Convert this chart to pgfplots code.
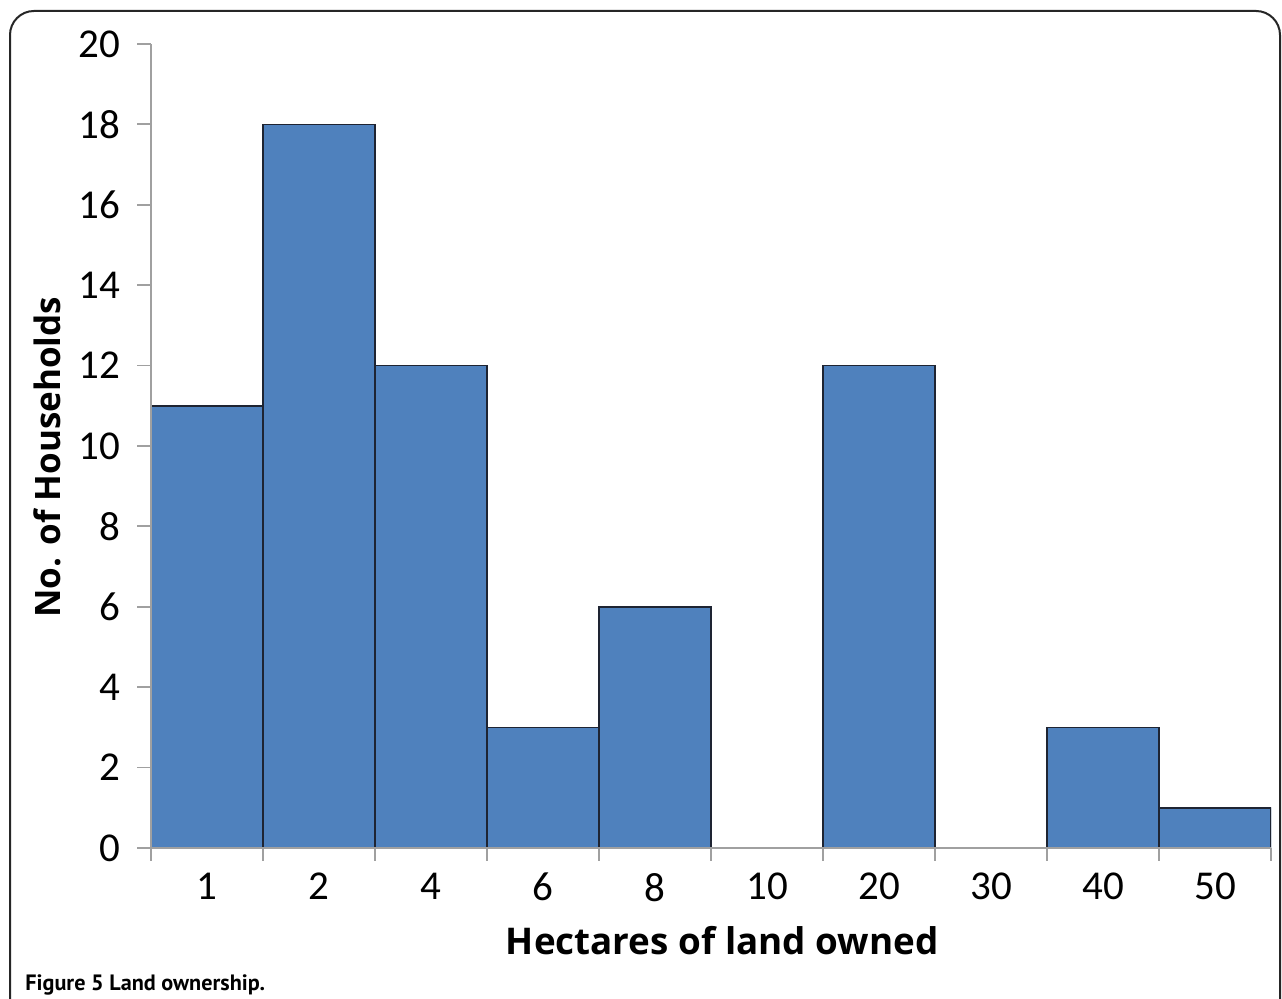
\documentclass[border=0pt]{standalone}
\usepackage{fontspec}
\setmainfont{Carlito}
\newfontfamily\capfont{PT Sans}
\newfontfamily\labfont{Open Sans}
\usepackage{pgfplots}
\pgfplotsset{compat=1.18}
\definecolor{barblue}{RGB}{79,129,189}
\definecolor{baredge}{RGB}{30,36,50}
\definecolor{axgray}{RGB}{160,160,160}
\begin{document}
% 1 px of the reference = 0.5pt
\begin{tikzpicture}
\path[use as bounding box] (0,0) rectangle (641pt,499.5pt);
\draw[line width=1pt, rounded corners=12pt, black!85] (5pt,-15pt) -- (5pt,494pt) -- (640pt,494pt) -- (640pt,-15pt);
\begin{axis}[
    at={(75.5pt,75.5pt)}, anchor=south west,
    scale only axis,
    width=560pt, height=402pt,
    xmin=0, xmax=10, ymin=0, ymax=20,
    axis x line=bottom, axis y line=left,
    axis line style={axgray, line width=0.9pt, -},
    axis on top,
    tick align=outside,
    ytick={0,2,...,20},
    xtick={0.5,1.5,...,9.5},
    xticklabels={1,2,4,6,8,10,20,30,40,50},
    minor xtick={0,1,...,10},
    major x tick style={draw=none},
    minor x tick style={axgray, line width=0.9pt},
    y tick style={axgray, line width=0.9pt},
    minor tick length=6.5pt,
    major tick length=7pt,
    /pgf/number format/assume math mode=true,
    tick label style={font=\fontsize{20.5}{24}\selectfont, black},
    yticklabel style={xshift=-5pt},
    xticklabel style={yshift=-2pt},
    xlabel={Hectares of land owned},
    ylabel={No. of Households},
    xlabel style={at={(axis description cs:0.51,-0.1157)}, anchor=center, font=\labfont\bfseries\fontsize{18.4}{21}\selectfont},
    ylabel style={at={(axis description cs:-0.0929,0.486)}, anchor=center, rotate=0, font=\labfont\bfseries\fontsize{17.5}{21}\selectfont},
]
\addplot[ybar, bar width=1, bar shift=0, fill=barblue, draw=baredge, line width=0.75pt]
  coordinates {(0.5,11) (1.5,18) (2.5,12) (3.5,3) (4.5,6) (6.5,12) (8.5,3) (9.5,1)};
\end{axis}
\node[anchor=base west, inner sep=0pt, font=\capfont\bfseries\fontsize{11.1}{13}\selectfont] at (12.5pt,4pt) {Figure 5 Land ownership.};
\end{tikzpicture}
\end{document}
